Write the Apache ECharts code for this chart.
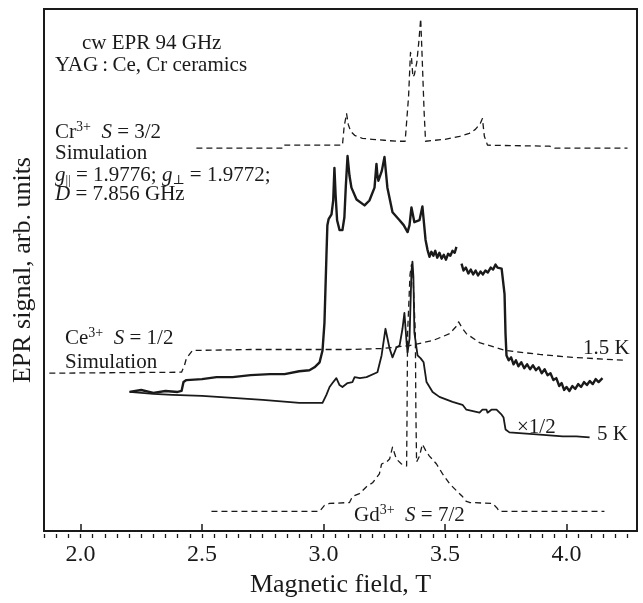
<!DOCTYPE html>
<html>
<head>
<meta charset="utf-8">
<script src="https://cdn.jsdelivr.net/npm/echarts@6/dist/echarts.min.js"></script>
<style>
  html, body { margin: 0; padding: 0; background: #fff; }
  #main { width: 643px; height: 603px; }
</style>
</head>
<body>
<div id="main"></div>
<script>
// axis ticks (T)
const majorTicks = [2.0, 2.5, 3.0, 3.5, 4.0];
const minorTicks = [];
for (let i = 37; i <= 85; i++) minorTicks.push(+(i * 0.05).toFixed(2));

// Cr3+ S=3/2 simulation (dashed, top)
const crSimField = [2.477, 2.836, 2.840, 3.078, 3.085, 3.095, 3.102, 3.112, 3.128, 3.16, 3.20, 3.25, 3.30, 3.336,
  3.342, 3.350, 3.358, 3.362, 3.368, 3.374, 3.384, 3.392, 3.400, 3.406, 3.414, 3.420, 3.46, 3.50, 3.56, 3.60,
  3.625, 3.645, 3.654, 3.662, 3.675, 3.93, 3.951, 4.251];
const crSimSignal = [77.6, 77.6, 78.2, 78.2, 82, 84.6, 82.4, 81, 80.2, 79.6, 79.4, 79.2, 79, 79,
  79.2, 88, 97, 96, 92, 92.5, 95, 99, 103.8, 96, 85, 79, 79.2, 79.4, 80, 80.6,
  81.4, 82.6, 83.6, 80, 78.2, 78, 77.6, 77.6];

// 1.5 K experiment, first sweep part
const exp15aField = [2.202, 2.25, 2.30, 2.35, 2.40, 2.416, 2.424, 2.436, 2.50, 2.56, 2.626, 2.70, 2.78, 2.840,
  2.90, 2.942, 2.963, 2.984, 2.996, 3.004, 3.012, 3.016, 3.021, 3.033, 3.040, 3.045, 3.050, 3.056, 3.066, 3.078,
  3.086, 3.092, 3.099, 3.107, 3.115, 3.136, 3.169, 3.189, 3.210, 3.218, 3.222, 3.226, 3.240, 3.251, 3.263,
  3.284, 3.313, 3.330, 3.346, 3.354, 3.362, 3.374, 3.395, 3.407, 3.420, 3.428, 3.436, 3.444, 3.452, 3.460,
  3.468, 3.477, 3.486, 3.495, 3.504, 3.513, 3.522, 3.531, 3.540, 3.547];
const exp15aSignal = [28.2, 28.6, 28, 28.4, 28.2, 28.4, 30.2, 30.6, 30.8, 31.2, 31.2, 31.6, 31.8, 31.8,
  32.4, 32.6, 33.2, 34.2, 36.6, 42.2, 55.6, 62, 63.2, 64.2, 67, 73.6, 68, 63, 61, 61,
  63.6, 70, 76, 72, 69.6, 67.2, 66, 67, 69.6, 74.4, 72, 71, 73, 75.8, 69.6,
  64.6, 63, 62, 60.6, 62, 65.6, 62.6, 63, 65.8, 59, 57, 55.6, 56.6, 55.8, 56.8,
  55.4, 56.4, 55.2, 56, 55, 56.2, 55.8, 56.8, 56.4, 57.6];

// 1.5 K experiment, second sweep part
const exp15bField = [3.568, 3.576, 3.586, 3.596, 3.606, 3.616, 3.626, 3.636, 3.646, 3.656, 3.666, 3.676, 3.688,
  3.698, 3.708, 3.716, 3.724, 3.733, 3.741, 3.745, 3.749, 3.753, 3.762, 3.772, 3.782, 3.792, 3.802, 3.814,
  3.826, 3.838, 3.850, 3.862, 3.874, 3.886, 3.898, 3.910, 3.922, 3.934, 3.946, 3.958, 3.970, 3.980, 3.990,
  4.000, 4.012, 4.024, 4.036, 4.048, 4.060, 4.072, 4.084, 4.096, 4.108, 4.120, 4.132, 4.148];
const exp15bSignal = [54.2, 52.8, 53.4, 52.2, 53, 52, 52.8, 51.8, 52.6, 52, 52.8, 52.4, 53.4,
  53, 54, 53.4, 53.8, 53.2, 53, 48, 40, 35.6, 34.6, 35.2, 33.8, 34.6, 33.4, 34.2,
  33, 33.8, 32.8, 33.6, 32.6, 33.2, 32, 32.8, 31.6, 32, 30.6, 31, 29.4, 30, 28.6,
  29.2, 28.4, 29.4, 28.8, 29.8, 29.2, 30.2, 29.6, 30.4, 29.8, 30.8, 30.2, 31];

// 5 K experiment (x1/2)
const exp5Field = [2.202, 2.30, 2.379, 2.50, 2.626, 2.75, 2.901, 2.996, 3.004, 3.012, 3.025, 3.037, 3.053, 3.066,
  3.078, 3.099, 3.107, 3.119, 3.128, 3.150, 3.177, 3.222, 3.239, 3.255, 3.272, 3.284, 3.300, 3.313, 3.325,
  3.333, 3.342, 3.346, 3.354, 3.362, 3.366, 3.370, 3.374, 3.387, 3.400, 3.412, 3.424, 3.449, 3.477, 3.531,
  3.572, 3.588, 3.642, 3.654, 3.671, 3.675, 3.691, 3.712, 3.733, 3.741, 3.749, 3.765, 3.820, 3.877, 3.930,
  3.984, 4.040, 4.095];
const exp5Signal = [28.2, 27.8, 27.6, 27.4, 27, 26.6, 26, 26, 26.8, 27.6, 29.2, 30, 31, 29.6,
  29.2, 30, 30.4, 30.2, 31.2, 31, 31.2, 32.2, 35.6, 41, 37, 35.2, 37.2, 37.6, 41,
  44.2, 38.2, 36.2, 39, 52.6, 54.6, 51.6, 40.2, 35.6, 35, 34.2, 30.2, 28.2, 27.2, 26.2,
  25.6, 24.6, 24, 24.6, 24.6, 24, 24.6, 24.6, 23.6, 23, 20.6, 20, 19.8, 19.6, 19.4,
  19.2, 19.2, 19];

// Ce3+ S=1/2 simulation (dashed)
const ceSimField = [1.872, 2.416, 2.428, 2.436, 2.461, 2.70, 2.90, 3.10, 3.243, 3.354, 3.449, 3.519, 3.545,
  3.556, 3.560, 3.570, 3.588, 3.642, 3.749, 3.889, 4.025, 4.247];
const ceSimSignal = [32, 32.2, 33.6, 35, 36.6, 36.8, 36.8, 36.8, 37, 37.6, 38.6, 40, 41.4,
  42.4, 42.4, 41.2, 40, 38.2, 36.6, 35.8, 35.2, 34.6];

// Gd3+ S=7/2 simulation (dashed, bottom)
const gdSimField = [2.539, 2.984, 3.004, 3.025, 3.107, 3.119, 3.148, 3.177, 3.202, 3.230, 3.239, 3.259, 3.272,
  3.284, 3.300, 3.321, 3.342, 3.344, 3.346, 3.356, 3.362, 3.368, 3.378, 3.380, 3.383, 3.395, 3.407, 3.424,
  3.436, 3.465, 3.490, 3.519, 3.547, 3.572, 3.588, 3.601, 3.695, 3.712, 3.724, 4.156];
const gdSimSignal = [4, 4, 5.2, 5.6, 5.8, 7, 7.6, 9, 9.8, 11.6, 13.6, 14, 14.6,
  17, 14.6, 13.6, 13.2, 25, 40, 52, 54, 52, 40, 25, 14, 15.2, 17.6, 16,
  15.2, 13.6, 11.6, 9.6, 8.2, 7, 6, 5.8, 5.6, 4.8, 4, 4];

const ink = '#1a1a1a';
const serif = '"Liberation Serif", "DejaVu Serif", serif';
const gridBox = { left: 44, right: 6, top: 9, bottom: 65 };

function pairs(xs, ys) {
  return xs.map((x, i) => [x, ys[i]]);
}

function curve(xs, ys, width, dashed) {
  return {
    type: 'line',
    data: pairs(xs, ys),
    showSymbol: false,
    symbol: 'none',
    silent: true,
    lineStyle: { color: ink, width: width, type: dashed ? [6, 4] : 'solid', join: 'round' }
  };
}

const rich = {
  sup: { fontSize: 14, fontFamily: serif, fill: ink, verticalAlign: 'top', lineHeight: 24 },
  sub: { fontSize: 13, fontFamily: serif, fill: ink, verticalAlign: 'bottom', lineHeight: 24 },
  it: { fontSize: 21, fontFamily: serif, fill: ink, fontStyle: 'italic', lineHeight: 24 },
  n: { fontSize: 21, fontFamily: serif, fill: ink, lineHeight: 24 }
};

function label(x, y, text) {
  return {
    type: 'text',
    x: x,
    y: y,
    silent: true,
    style: {
      text: text,
      rich: rich,
      fontSize: 21,
      fontFamily: serif,
      fill: ink,
      align: 'left',
      verticalAlign: 'middle'
    }
  };
}

const hiddenY = {
  type: 'value', min: 0, max: 105.8,
  axisLine: { show: false }, axisTick: { show: false }, axisLabel: { show: false },
  splitLine: { show: false }
};

const chart = echarts.init(document.getElementById('main'), null, { renderer: 'canvas' });
chart.setOption({
  animation: false,
  backgroundColor: '#fff',
  grid: [
    Object.assign({ show: true, borderColor: ink, borderWidth: 2 }, gridBox),
    Object.assign({ show: false }, gridBox)
  ],
  xAxis: [{
    type: 'value', min: 1.85, max: 4.29, position: 'bottom', gridIndex: 0,
    name: 'Magnetic field, T', nameLocation: 'middle', nameGap: 40,
    nameTextStyle: { fontSize: 26, fontFamily: serif, color: ink },
    axisLine: { show: true, lineStyle: { color: ink, width: 2 } },
    axisTick: { customValues: majorTicks, inside: true, length: 7, lineStyle: { color: ink, width: 1.5 } },
    axisLabel: { customValues: majorTicks, formatter: v => v.toFixed(1), fontSize: 24, fontFamily: serif, color: ink, margin: 12 },
    splitLine: { show: false }
  }, {
    type: 'value', min: 1.85, max: 4.29, position: 'bottom', gridIndex: 1,
    axisLine: { show: false },
    axisTick: { customValues: minorTicks, inside: true, length: 4, lineStyle: { color: ink, width: 1.3 } },
    axisLabel: { show: false },
    splitLine: { show: false }
  }],
  yAxis: [
    Object.assign({}, hiddenY, {
      gridIndex: 0,
      name: 'EPR signal, arb. units', nameLocation: 'middle', nameGap: 8,
      nameTextStyle: { fontSize: 26, fontFamily: serif, color: ink }
    }),
    Object.assign({}, hiddenY, { gridIndex: 1 })
  ],
  series: [
    curve(crSimField, crSimSignal, 1.3, true),
    curve(ceSimField, ceSimSignal, 1.3, true),
    curve(gdSimField, gdSimSignal, 1.3, true),
    curve(exp5Field, exp5Signal, 1.8, false),
    curve(exp15aField, exp15aSignal, 2.4, false),
    curve(exp15bField, exp15bSignal, 2.4, false)
  ],
  graphic: [
    label(82, 43, 'cw EPR 94 GHz'),
    label(55, 65, 'YAG\u2009:\u2009Ce, Cr ceramics'),
    label(55, 132, 'Cr{sup|3+}  {it|S} = 3/2'),
    label(55, 153, 'Simulation'),
    label(55, 175, '{it|g}{sub|||} = 1.9776; {it|g}{sub|\u22a5} = 1.9772;'),
    label(55, 194, '{it|D} = 7.856 GHz'),
    label(65, 338, 'Ce{sup|3+}  {it|S} = 1/2'),
    label(65, 362, 'Simulation'),
    label(583, 348, '1.5 K'),
    label(517, 427, '\u00d71/2'),
    label(597, 434, '5 K'),
    label(354, 515, 'Gd{sup|3+}  {it|S} = 7/2')
  ]
});
</script>
</body>
</html>
